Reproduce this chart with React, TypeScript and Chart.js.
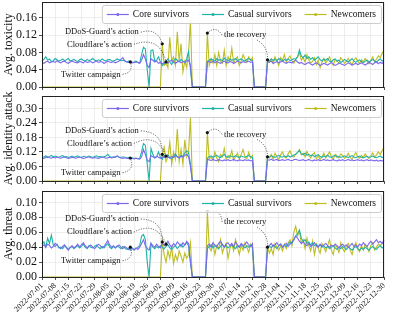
import React, { useEffect, useRef } from 'react';
import { Chart, registerables } from 'chart.js';

Chart.register(...registerables);

const FONT = '"Liberation Serif", "Times New Roman", Times, serif';

const SERIES_NAMES = ['Core survivors', 'Casual survivors', 'Newcomers'];
const SERIES_COLORS = ['#7B68EE', '#20B2AA', '#BCBD22'];

const XTICK_LABELS = [
  '2022-07-01', '2022-07-08', '2022-07-15', '2022-07-22', '2022-07-29',
  '2022-08-05', '2022-08-12', '2022-08-19', '2022-08-26', '2022-09-02',
  '2022-09-09', '2022-09-16', '2022-09-23', '2022-09-30', '2022-10-07',
  '2022-10-14', '2022-10-21', '2022-10-28', '2022-11-04', '2022-11-11',
  '2022-11-18', '2022-11-25', '2022-12-02', '2022-12-09', '2022-12-16',
  '2022-12-23', '2022-12-30',
];

// one value per day, 2022-07-01 .. 2022-12-30 (183 days)
const CORE_TOXICITY = [
  .057, .055, .058, .060, .056, .058, .059, .057, .061, .058,
  .056, .059, .060, .057, .055, .058, .060, .058, .057, .056,
  .059, .058, .056, .060, .057, .058, .059, .056, .058, .060,
  .057, .059, .058, .055, .057, .060, .058, .057, .059, .056,
  .058, .060, .064, .068, .061, .058, .057, .058, .056, .057,
  .058, .057, .055, .062, .075, .065, .050, .045, .065, .062,
  .058, .060, .055, .057, .054, .056, .058, .055, .060, .062,
  .057, .055, .058, .060, .056, .059, .057, .060, .062, .050,
  0, 0, 0, 0, 0, 0, 0, 0, .060, .058,
  .057, .060, .056, .059, .057, .055, .058, .060, .057, .056,
  .059, .058, .055, .057, .060, .058, .056, .059, .057, .058,
  .060, .057, .059, 0, 0, 0, 0, 0, 0, 0,
  .058, .057, .060, .055, .057, .059, .056, .058, .060, .057,
  .055, .058, .057, .056, .060, .062, .058, .055, .057, .054,
  .052, .055, .057, .053, .051, .054, .056, .053, .050, .052,
  .055, .053, .051, .054, .057, .053, .050, .052, .055, .054,
  .052, .050, .053, .056, .054, .051, .053, .055, .052, .054,
  .056, .053, .051, .054, .057, .055, .052, .056, .058, .054,
  .057, .055, .058,
];
const CASUAL_TOXICITY = [
  .060, .064, .070, .062, .065, .059, .061, .066, .063, .060,
  .062, .065, .061, .063, .066, .060, .062, .064, .061, .059,
  .063, .065, .062, .060, .064, .061, .063, .066, .062, .060,
  .063, .061, .065, .062, .060, .063, .064, .061, .060, .062,
  .065, .063, .061, .062, .060, .058, .060, .059, .057, .058,
  .060, .057, .056, .075, .092, .088, .040, 0, .085, .086,
  .060, .062, .070, .058, .050, .055, .060, .065, .058, .052,
  .060, .066, .062, .058, .064, .060, .057, .065, .082, .040,
  0, 0, 0, 0, 0, 0, 0, 0, .058, .062,
  .065, .063, .060, .066, .062, .064, .061, .067, .063, .060,
  .065, .062, .064, .066, .061, .063, .065, .062, .060, .064,
  .066, .063, .061, 0, 0, 0, 0, 0, 0, 0,
  .063, .060, .065, .062, .064, .061, .066, .063, .060, .064,
  .062, .065, .061, .063, .066, .064, .070, .086, .072, .068,
  .074, .066, .070, .064, .068, .062, .066, .070, .063, .060,
  .065, .062, .066, .060, .058, .063, .065, .060, .062, .057,
  .060, .064, .061, .058, .062, .066, .060, .057, .061, .063,
  .059, .056, .060, .062, .058, .061, .064, .060, .057, .062,
  .065, .060, .062,
];
const NEW_TOXICITY = [
  0, 0, 0, 0, 0, 0, 0, 0, 0, 0,
  0, 0, 0, 0, 0, 0, 0, 0, 0, 0,
  0, 0, 0, 0, 0, 0, 0, 0, 0, 0,
  0, 0, 0, 0, 0, 0, 0, 0, 0, 0,
  0, 0, 0, 0, 0, 0, 0, 0, 0, 0,
  0, 0, 0, 0, 0, 0, 0, 0, 0, 0,
  0, 0, 0, 0, .100, .050, .055, .045, .115, .060,
  .070, .050, .128, .060, .100, .035, .060, .045, .080, .155,
  0, 0, 0, 0, 0, 0, 0, 0, .125, .050,
  .065, .055, .075, .050, .080, .060, .055, .085, .050, .070,
  .060, .090, .055, .065, .070, .050, .060, .075, .065, .058,
  .070, .062, .068, 0, 0, 0, 0, 0, 0, 0,
  .060, .058, .065, .055, .070, .060, .050, .068, .062, .075,
  .058, .066, .072, .060, .055, .064, .070, .080, .062, .068,
  .058, .075, .063, .055, .060, .068, .052, .062, .045, .058,
  .066, .055, .062, .070, .058, .050, .064, .060, .056, .068,
  .062, .055, .060, .066, .058, .052, .062, .068, .060, .055,
  .063, .058, .066, .060, .054, .062, .070, .058, .065, .072,
  .068, .078, .086,
];

const CORE_IDENTITY = [
  .095, .093, .097, .100, .096, .094, .098, .095, .099, .096,
  .094, .097, .100, .096, .093, .095, .098, .096, .094, .097,
  .099, .096, .093, .095, .098, .100, .096, .094, .097, .095,
  .093, .096, .099, .097, .094, .096, .098, .095, .097, .100,
  .104, .098, .095, .093, .096, .094, .092, .095, .093, .091,
  .094, .092, .090, .100, .130, .110, .085, .080, .105, .100,
  .096, .102, .098, .094, .100, .097, .103, .099, .095, .101,
  .098, .104, .100, .096, .102, .099, .105, .110, .100, .060,
  0, 0, 0, 0, 0, 0, 0, 0, .090, .087,
  .085, .089, .086, .084, .088, .086, .083, .087, .085, .088,
  .084, .086, .089, .085, .083, .087, .086, .084, .088, .085,
  .087, .083, .086, 0, 0, 0, 0, 0, 0, 0,
  .088, .086, .090, .085, .087, .089, .084, .086, .088, .085,
  .087, .089, .086, .084, .088, .090, .087, .085, .086, .088,
  .084, .086, .089, .085, .083, .087, .085, .088, .084, .086,
  .089, .085, .087, .084, .086, .088, .085, .083, .087, .085,
  .088, .084, .086, .089, .085, .087, .084, .086, .088, .085,
  .087, .083, .086, .088, .084, .087, .085, .083, .086, .082,
  .085, .083, .086,
];
const CASUAL_IDENTITY = [
  .100, .098, .104, .097, .101, .106, .099, .103, .100, .097,
  .102, .105, .099, .101, .097, .100, .103, .098, .101, .104,
  .099, .097, .102, .100, .098, .103, .100, .097, .101, .104,
  .099, .102, .098, .100, .103, .110, .101, .098, .100, .097,
  .102, .099, .097, .100, .098, .095, .097, .094, .096, .093,
  .095, .092, .094, .120, .155, .148, .070, 0, .135, .110,
  .095, .100, .120, .098, .090, .105, .100, .108, .097, .092,
  .103, .112, .100, .095, .106, .100, .115, .125, .118, .070,
  0, 0, 0, 0, 0, 0, 0, 0, .095, .100,
  .104, .098, .102, .106, .100, .097, .103, .110, .100, .098,
  .104, .101, .099, .105, .100, .097, .103, .100, .098, .102,
  .105, .100, .098, 0, 0, 0, 0, 0, 0, 0,
  .100, .098, .104, .100, .097, .102, .106, .100, .098, .103,
  .100, .105, .099, .102, .107, .110, .118, .125, .112, .108,
  .115, .106, .110, .104, .108, .100, .105, .109, .101, .098,
  .104, .100, .106, .099, .097, .103, .105, .099, .101, .097,
  .100, .104, .100, .097, .101, .105, .099, .096, .100, .103,
  .098, .095, .099, .102, .097, .100, .103, .098, .096, .100,
  .103, .097, .100,
];
const NEW_IDENTITY = [
  0, 0, 0, 0, 0, 0, 0, 0, 0, 0,
  0, 0, 0, 0, 0, 0, 0, 0, 0, 0,
  0, 0, 0, 0, 0, 0, 0, 0, 0, 0,
  0, 0, 0, 0, 0, 0, 0, 0, 0, 0,
  0, 0, 0, 0, 0, 0, 0, 0, 0, 0,
  0, 0, 0, 0, 0, 0, 0, 0, 0, 0,
  0, 0, 0, 0, .110, .140, .080, .100, .160, .070,
  .120, .090, .215, .080, .130, .070, .170, .100, .120, .265,
  0, 0, 0, 0, 0, 0, 0, 0, .200, .090,
  .100, .085, .120, .095, .080, .110, .100, .135, .090, .105,
  .095, .125, .085, .100, .115, .090, .110, .130, .100, .092,
  .118, .095, .105, 0, 0, 0, 0, 0, 0, 0,
  .100, .095, .110, .090, .115, .100, .088, .108, .120, .100,
  .095, .112, .125, .105, .098, .110, .118, .130, .108, .115,
  .100, .122, .105, .095, .110, .117, .092, .105, .088, .100,
  .115, .095, .108, .120, .100, .090, .110, .104, .096, .112,
  .105, .094, .100, .115, .098, .090, .104, .118, .100, .094,
  .106, .098, .112, .100, .093, .104, .116, .098, .108, .120,
  .110, .125, .140,
];

const CORE_THREAT = [
  .041, .043, .040, .044, .042, .039, .041, .045, .043, .040,
  .038, .041, .043, .039, .036, .040, .042, .039, .041, .044,
  .040, .043, .046, .042, .039, .041, .043, .040, .038, .041,
  .044, .042, .039, .041, .045, .049, .043, .040, .042, .039,
  .041, .043, .040, .038, .041, .039, .037, .040, .038, .036,
  .039, .037, .040, .045, .050, .042, .038, .036, .045, .042,
  .040, .044, .041, .039, .046, .042, .044, .048, .043, .040,
  .045, .042, .047, .044, .041, .046, .043, .048, .045, .020,
  0, 0, 0, 0, 0, 0, 0, 0, .042, .044,
  .040, .046, .043, .041, .045, .048, .043, .040, .044, .046,
  .042, .045, .041, .047, .043, .040, .045, .042, .044, .047,
  .043, .041, .045, 0, 0, 0, 0, 0, 0, 0,
  .040, .042, .045, .041, .043, .046, .042, .044, .040, .043,
  .045, .041, .044, .047, .050, .055, .052, .048, .045, .047,
  .044, .042, .045, .041, .043, .046, .042, .040, .044, .041,
  .043, .045, .042, .040, .043, .041, .044, .042, .039, .042,
  .044, .041, .043, .040, .042, .045, .041, .043, .040, .044,
  .042, .046, .043, .041, .045, .048, .044, .047, .050, .046,
  .048, .045, .050,
];
const CASUAL_THREAT = [
  .044, .047, .040, .052, .045, .056, .043, .041, .044, .039,
  .040, .038, .042, .040, .037, .039, .041, .038, .040, .042,
  .039, .041, .044, .040, .038, .042, .040, .039, .041, .043,
  .040, .038, .041, .039, .042, .045, .040, .038, .041, .039,
  .042, .040, .038, .041, .039, .037, .038, .036, .039, .037,
  .038, .040, .042, .055, .057, .050, .020, 0, .045, .040,
  .038, .041, .039, .042, .040, .038, .041, .043, .039, .037,
  .040, .042, .038, .041, .044, .040, .043, .046, .042, .020,
  0, 0, 0, 0, 0, 0, 0, 0, .038, .041,
  .043, .039, .042, .040, .038, .041, .044, .040, .042, .039,
  .041, .043, .040, .038, .042, .040, .044, .041, .039, .042,
  .040, .043, .041, 0, 0, 0, 0, 0, 0, 0,
  .040, .042, .039, .043, .041, .038, .042, .044, .040, .043,
  .041, .044, .047, .045, .050, .055, .058, .063, .052, .048,
  .050, .045, .047, .043, .046, .042, .044, .041, .043, .040,
  .042, .039, .041, .038, .040, .042, .039, .037, .040, .038,
  .041, .039, .037, .040, .038, .036, .039, .041, .038, .036,
  .039, .037, .040, .038, .036, .039, .041, .038, .037, .040,
  .042, .039, .041,
];
const NEW_THREAT = [
  0, 0, 0, 0, 0, 0, 0, 0, 0, 0,
  0, 0, 0, 0, 0, 0, 0, 0, 0, 0,
  0, 0, 0, 0, 0, 0, 0, 0, 0, 0,
  0, 0, 0, 0, 0, 0, 0, 0, 0, 0,
  0, 0, 0, 0, 0, 0, 0, 0, 0, 0,
  0, 0, 0, 0, 0, 0, 0, 0, 0, 0,
  0, 0, 0, 0, .047, .030, .020, .035, .025, .040,
  .018, .030, .022, .035, .028, .020, .032, .025, .030, .046,
  0, 0, 0, 0, 0, 0, 0, 0, .088, .040,
  .035, .045, .030, .042, .038, .050, .032, .040, .045, .025,
  .038, .044, .035, .050, .040, .030, .042, .036, .046, .040,
  .033, .044, .038, 0, 0, 0, 0, 0, 0, 0,
  .040, .032, .038, .030, .045, .040, .036, .042, .035, .044,
  .038, .046, .050, .042, .060, .068, .055, .062, .045, .050,
  .038, .052, .042, .035, .048, .030, .044, .038, .032, .045,
  .040, .034, .042, .050, .036, .030, .044, .040, .033, .046,
  .038, .034, .042, .045, .036, .030, .040, .046, .038, .034,
  .042, .036, .044, .040, .034, .042, .046, .036, .040, .044,
  .042, .045, .048,
];

// annotation texts, their left edge (day index) and vertical value per panel
const NOTE_LABELS = ['Twitter campaign', 'Cloudflare\u2019s action', 'DDoS-Guard\u2019s action', 'the recovery'];
const NOTE_DAYS = [10.1, 13.3, 12.2, 96.9];
const NOTE_VALUES_TOXICITY = [0.0295, 0.099, 0.127, 0.1206];
const NOTE_VALUES_IDENTITY = [0.034, 0.155, 0.207, 0.192];
const NOTE_VALUES_THREAT = [0.0218, 0.0603, 0.0777, 0.0737];
// arrows: which note, which day / series the dot sits on, where it leaves the text, curvature
const ARROWS = [
  { note: 0, day: 47, series: 0, side: 'right', rad: -0.6 },
  { note: 1, day: 66, series: 0, side: 'right', rad: 0.55 },
  { note: 2, day: 64, series: 2, side: 'right', rad: 0.5 },
  { note: 3, day: 88, series: 2, side: 'left', rad: -0.6 },
  { note: 3, day: 120, series: 1, side: 'below', rad: 0.3 },
];

type PanelDef = {
  title: string;
  series: number[][];
  yMax: number;
  yStep: number;
  top: number;
  height: number;
  padTop: number;
  xAxisHeight: number;
  showXLabels: boolean;
  noteValues: number[];
};

const PANELS: PanelDef[] = [
  {
    title: 'Avg. toxicity', series: [CORE_TOXICITY, CASUAL_TOXICITY, NEW_TOXICITY],
    yMax: 0.197, yStep: 0.04, top: 0, height: 91, padTop: 2, xAxisHeight: 4, showXLabels: false,
    noteValues: NOTE_VALUES_TOXICITY,
  },
  {
    title: 'Avg. identity attack', series: [CORE_IDENTITY, CASUAL_IDENTITY, NEW_IDENTITY],
    yMax: 0.351, yStep: 0.06, top: 80, height: 105, padTop: 16, xAxisHeight: 4, showXLabels: false,
    noteValues: NOTE_VALUES_IDENTITY,
  },
  {
    title: 'Avg. threat', series: [CORE_THREAT, CASUAL_THREAT, NEW_THREAT],
    yMax: 0.1153, yStep: 0.02, top: 175, height: 143, padTop: 16, xAxisHeight: 41, showXLabels: true,
    noteValues: NOTE_VALUES_THREAT,
  },
];

function decorPlugin(panel: PanelDef) {
  return {
    id: 'decor',
    afterDraw(chart: any) {
      const ctx: CanvasRenderingContext2D = chart.ctx;
      const area = chart.chartArea;
      const xs = chart.scales.x;
      const ys = chart.scales.y;
      ctx.save();

      // frame
      ctx.strokeStyle = '#222';
      ctx.lineWidth = 1;
      ctx.strokeRect(Math.round(area.left) + 0.5, Math.round(area.top) + 0.5,
        Math.round(area.right - area.left) - 1, Math.round(area.bottom - area.top));

      // annotations
      ctx.font = `8.5px ${FONT}`;
      ctx.fillStyle = '#111';
      ctx.textBaseline = 'middle';
      ctx.textAlign = 'left';
      const notes = NOTE_LABELS.map((t, k) => {
        const x = xs.getPixelForValue(NOTE_DAYS[k]);
        const y = ys.getPixelForValue(panel.noteValues[k]);
        const w = ctx.measureText(t).width;
        ctx.fillText(t, x, y);
        return { x, y, w };
      });
      ARROWS.forEach((a) => {
        const n = notes[a.note];
        let sx: number; let sy: number;
        if (a.side === 'right') { sx = n.x + n.w + 2; sy = n.y; }
        else if (a.side === 'left') { sx = n.x - 2; sy = n.y; }
        else { sx = n.x + n.w * 0.78; sy = n.y + 5; }
        const ex = xs.getPixelForValue(a.day);
        const ey = ys.getPixelForValue(panel.series[a.series][a.day]);
        const dx = ex - sx; const dy = ey - sy;
        const cx = (sx + ex) / 2 + a.rad * dy;
        const cy = (sy + ey) / 2 - a.rad * dx;
        ctx.setLineDash([1, 1.5]);
        ctx.lineWidth = 0.8;
        ctx.strokeStyle = '#222';
        ctx.beginPath();
        ctx.moveTo(sx, sy);
        ctx.quadraticCurveTo(cx, cy, ex, ey);
        ctx.stroke();
        ctx.setLineDash([]);
        ctx.fillStyle = '#111';
        ctx.beginPath();
        ctx.arc(ex, ey, 1.6, 0, Math.PI * 2);
        ctx.fill();
      });

      // legend
      ctx.font = `9.5px ${FONT}`;
      const widths = SERIES_NAMES.map((s) => ctx.measureText(s).width);
      const lineLen = 22; const textGap = 4; const itemGap = 13; const padL = 5; const padR = 5;
      const total = padL + padR + widths.reduce((acc, w) => acc + lineLen + textGap + w, 0) + itemGap * (widths.length - 1);
      const bh = 18;
      const bx = area.right - 3 - total;
      const by = area.top + 3;
      ctx.beginPath();
      if ((ctx as any).roundRect) (ctx as any).roundRect(bx + 0.5, by + 0.5, total, bh, 2.5);
      else ctx.rect(bx + 0.5, by + 0.5, total, bh);
      ctx.fillStyle = 'rgba(255,255,255,0.85)';
      ctx.fill();
      ctx.strokeStyle = '#cccccc';
      ctx.lineWidth = 1;
      ctx.stroke();
      let x = bx + padL;
      const cyL = by + bh / 2 + 0.5;
      SERIES_NAMES.forEach((name, i) => {
        ctx.strokeStyle = SERIES_COLORS[i];
        ctx.lineWidth = 1.2;
        ctx.beginPath();
        ctx.moveTo(x, cyL);
        ctx.lineTo(x + lineLen, cyL);
        ctx.stroke();
        ctx.fillStyle = SERIES_COLORS[i];
        ctx.beginPath();
        ctx.arc(x + lineLen / 2, cyL, 1.5, 0, Math.PI * 2);
        ctx.fill();
        ctx.fillStyle = '#111';
        ctx.textBaseline = 'middle';
        ctx.fillText(name, x + lineLen + textGap, cyL);
        x += lineLen + textGap + widths[i] + itemGap;
      });
      ctx.restore();
    },
  };
}

function PanelChart({ panel }: { panel: PanelDef }) {
  const ref = useRef<HTMLCanvasElement>(null);
  useEffect(() => {
    if (!ref.current) return;
    const chart = new Chart(ref.current, {
      type: 'line',
      data: {
        datasets: SERIES_NAMES.map((name, i) => ({
          label: name,
          data: panel.series[i].map((v, d) => ({ x: d, y: v })),
          borderColor: SERIES_COLORS[i],
          backgroundColor: SERIES_COLORS[i],
          borderWidth: 1.1,
          pointRadius: 0,
          tension: 0,
          clip: false as any,
        })),
      },
      options: {
        animation: false,
        responsive: false,
        devicePixelRatio: 1,
        events: [],
        layout: { padding: { top: panel.padTop, left: 0, right: 15, bottom: 0 } },
        plugins: { legend: { display: false }, tooltip: { enabled: false } },
        scales: {
          x: {
            type: 'linear',
            min: 0,
            max: 182,
            ticks: {
              stepSize: 7,
              autoSkip: false,
              display: panel.showXLabels,
              minRotation: 45,
              maxRotation: 45,
              padding: 1,
              color: '#111',
              font: { family: FONT, size: 8 },
              callback: (v: any) => XTICK_LABELS[Math.round(Number(v) / 7)] ?? '',
            },
            grid: { color: '#e8e8e8', lineWidth: 0.8, tickLength: 3, tickColor: '#222' },
            border: { display: false },
            afterFit: (s: any) => { s.height = panel.xAxisHeight; s.paddingLeft = 0; s.paddingRight = 0; },
          },
          y: {
            min: 0,
            max: panel.yMax,
            ticks: {
              stepSize: panel.yStep,
              includeBounds: false,
              autoSkip: false,
              padding: 2,
              color: '#111',
              font: { family: FONT, size: 12 },
              callback: (v: any) => Number(v).toFixed(2),
            },
            grid: { color: '#e8e8e8', lineWidth: 0.8, tickLength: 3, tickColor: '#222' },
            border: { display: false },
            title: {
              display: true,
              text: panel.title,
              color: '#111',
              font: { family: FONT, size: 12 },
              padding: { top: 2, bottom: 0 },
            },
            afterFit: (s: any) => { s.width = 42; s.paddingTop = 0; s.paddingBottom = 0; },
          },
        },
      } as any,
      plugins: [decorPlugin(panel)],
    });
    return () => chart.destroy();
  }, [panel]);
  return (
    <canvas
      ref={ref}
      width={399}
      height={panel.height}
      style={{ position: 'absolute', left: 0, top: panel.top, width: 399, height: panel.height }}
    />
  );
}

export default function App() {
  return (
    <div style={{ position: 'fixed', left: 0, top: 0, width: 399, height: 318, background: '#fff', overflow: 'hidden' }}>
      {PANELS.map((p) => <PanelChart key={p.title} panel={p} />)}
    </div>
  );
}
